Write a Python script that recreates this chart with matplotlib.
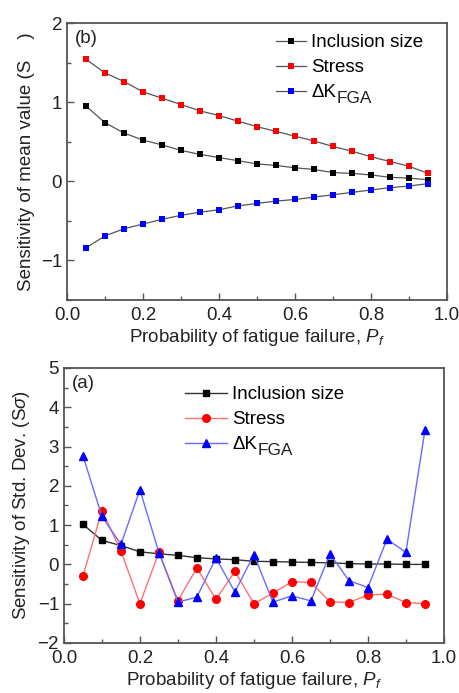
import matplotlib
matplotlib.use("Agg")
import matplotlib.pyplot as plt
from matplotlib.ticker import MultipleLocator

plt.rcParams["font.family"] = ["Liberation Sans", "DejaVu Sans"]
plt.rcParams["mathtext.fontset"] = "custom"
plt.rcParams["mathtext.rm"] = "Liberation Sans"
plt.rcParams["mathtext.it"] = "Liberation Sans:italic"

# failure probability levels
PF = [0.05, 0.10, 0.15, 0.20, 0.25, 0.30, 0.35, 0.40, 0.45, 0.50,
      0.55, 0.60, 0.65, 0.70, 0.75, 0.80, 0.85, 0.90, 0.95]

# (b) sensitivity of mean value
MEAN_INCL = [0.95, 0.74, 0.61, 0.52, 0.46, 0.39, 0.34, 0.30, 0.26, 0.22,
             0.20, 0.17, 0.15, 0.11, 0.10, 0.08, 0.05, 0.04, 0.02]
MEAN_STRESS = [1.54, 1.37, 1.26, 1.13, 1.05, 0.97, 0.89, 0.83, 0.76, 0.69,
               0.63, 0.57, 0.51, 0.44, 0.38, 0.31, 0.25, 0.19, 0.10]
MEAN_DK = [-0.84, -0.69, -0.60, -0.54, -0.48, -0.43, -0.39, -0.36, -0.31, -0.28,
           -0.25, -0.23, -0.20, -0.17, -0.14, -0.11, -0.08, -0.06, -0.03]

# (a) sensitivity of std. dev.
STD_INCL = [1.02, 0.61, 0.48, 0.32, 0.27, 0.23, 0.17, 0.14, 0.12, 0.08,
            0.07, 0.06, 0.05, 0.04, 0.02, 0.01, 0.01, 0.0, 0.0]
STD_STRESS = [-0.30, 1.37, 0.34, -1.00, 0.31, -0.92, -0.09, -0.89, -0.18, -1.00,
              -0.73, -0.44, -0.46, -0.95, -0.97, -0.78, -0.76, -0.97, -1.00]
STD_DK = [2.77, 1.22, 0.51, 1.90, 0.30, -0.96, -0.83, 0.16, -0.70, 0.25,
          -0.96, -0.80, -0.93, 0.27, -0.41, -0.59, 0.64, 0.31, 3.41]

LABELS = ["Inclusion size", "Stress", "\u0394K"]
SUB = "FGA"

FS = 13.5
SPINE = "#555555"
TXT = "#222222"


def style_axes(ax, ymaj, ymin):
    ax.set_xlim(0, 1.0)
    ax.xaxis.set_major_locator(MultipleLocator(0.2))
    ax.xaxis.set_minor_locator(MultipleLocator(0.1))
    ax.yaxis.set_major_locator(MultipleLocator(ymaj))
    ax.yaxis.set_minor_locator(MultipleLocator(ymin))
    ax.xaxis.set_major_formatter(plt.FuncFormatter(lambda v, p: f"{v:.1f}"))
    ax.yaxis.set_major_formatter(plt.FuncFormatter(
        lambda v, p: f"{v:.0f}".replace("-", "\u2212")))
    ax.tick_params(which="both", direction="in", colors=SPINE, labelcolor=TXT,
                   labelsize=FS, top=False, right=False)
    ax.tick_params(which="major", length=5, width=1.0)
    ax.tick_params(which="minor", length=3, width=1.0)
    ax.tick_params(axis="x", pad=5)
    for s in ax.spines.values():
        s.set_color(SPINE)
        s.set_linewidth(1.3)
    ax.set_xlabel("Probability of fatigue failure, $\\mathit{P_f}$", fontsize=FS,
                  color=TXT, labelpad=2)


def add_subscript(fig, leg):
    # draw "FGA" as a lowered, near full-size subscript after the "ΔK" legend entry
    fig.canvas.draw()
    t = leg.get_texts()[2]
    bb = t.get_window_extent()
    x, y = fig.transFigure.inverted().transform((bb.x1 + 0.5, bb.y0 - 5))
    fig.text(x, y, SUB, fontsize=FS * 0.92, color=TXT, va="bottom", ha="left")


fig = plt.figure(figsize=(4.6, 6.93), dpi=100)
ax1 = fig.add_axes([0.1457, 0.5671, 0.826, 0.3997])
ax2 = fig.add_axes([0.139, 0.0722, 0.826, 0.3968])

# top panel (b)
st = dict(color="#555555", lw=0.9, marker="s", ms=5, mew=0)
ax1.plot(PF, MEAN_INCL, mfc="black", label=LABELS[0], **st)
ax1.plot(PF, MEAN_STRESS, mfc="#ff0000", label=LABELS[1], **st)
ax1.plot(PF, MEAN_DK, mfc="#0000ff", label=LABELS[2], **st)
ax1.set_ylim(-1.5, 2)
style_axes(ax1, 1, 0.5)
ax1.set_ylabel("Sensitivity of mean value (S    )", fontsize=FS, color=TXT,
               labelpad=4)
ax1.text(0.02, 0.975, "(b)", transform=ax1.transAxes, fontsize=FS, va="top",
         color=TXT)
leg1 = ax1.legend(loc="upper left", bbox_to_anchor=(0.52, 1.0), frameon=False,
                  fontsize=FS, handlelength=1.6, handletextpad=0.3,
                  labelspacing=0.42, borderaxespad=0.2)

# bottom panel (a)
ax2.plot(PF, STD_INCL, color="#333333", lw=1.0, marker="s", ms=5, mfc="black",
         mec="black", label=LABELS[0])
ax2.plot(PF, STD_STRESS, color="#ff7070", lw=1.0, marker="o", ms=5.5, mfc="#ff0000",
         mec="#ff0000", label=LABELS[1])
ax2.plot(PF, STD_DK, color="#6a6aff", lw=1.0, marker="^", ms=6, mfc="#0000ff",
         mec="#0000ff", label=LABELS[2])
ax2.set_ylim(-2, 5)
style_axes(ax2, 1, 0.5)
ax2.set_ylabel("Sensitivity of Std. Dev. (S$\\mathit{\\sigma}$)", fontsize=FS,
               color=TXT, labelpad=4)
ax2.text(0.02, 0.975, "(a)", transform=ax2.transAxes, fontsize=FS, va="top",
         color=TXT)
leg2 = ax2.legend(loc="upper left", bbox_to_anchor=(0.29, 0.975), frameon=False,
                  fontsize=FS, handlelength=2.2, handletextpad=0.3,
                  labelspacing=0.42, borderaxespad=0.2)

add_subscript(fig, leg1)
add_subscript(fig, leg2)

fig.savefig("out.png", dpi=100)
